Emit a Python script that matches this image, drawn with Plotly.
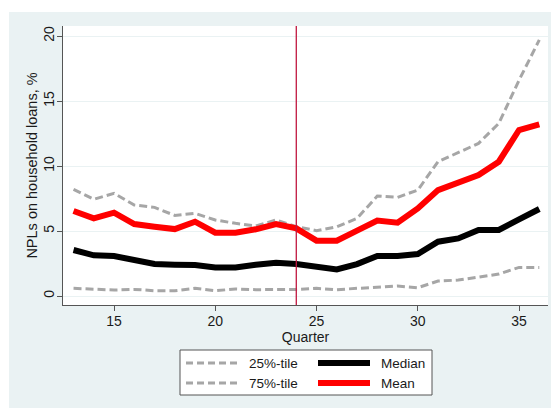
import plotly.graph_objects as go

# Quarterly NPL ratios on household loans, %
quarters = list(range(13, 37))
p25 = [0.59, 0.51, 0.46, 0.51, 0.41, 0.41, 0.59, 0.41, 0.54, 0.49, 0.49, 0.51,
       0.59, 0.49, 0.59, 0.67, 0.77, 0.64, 1.15, 1.23, 1.44, 1.69, 2.20, 2.20]
p75 = [8.20, 7.44, 7.90, 7.00, 6.82, 6.20, 6.36, 5.85, 5.59, 5.38, 5.85, 5.33,
       5.03, 5.33, 5.97, 7.69, 7.59, 8.15, 10.33, 11.03, 11.74, 13.28, 16.60, 19.70]
median = [3.54, 3.13, 3.08, 2.77, 2.46, 2.41, 2.38, 2.20, 2.20, 2.41, 2.56, 2.46,
          2.20, 2.05, 2.46, 3.08, 3.08, 3.23, 4.18, 4.43, 5.08, 5.08, 5.90, 6.69]
mean = [6.54, 5.97, 6.41, 5.54, 5.33, 5.15, 5.72, 4.87, 4.87, 5.13, 5.54, 5.20,
        4.26, 4.26, 5.03, 5.80, 5.64, 6.74, 8.15, 8.67, 9.31, 10.33, 12.77, 13.20]
break_quarter = 24

legend_names = ["25%-tile", "75%-tile", "Median", "Mean"]

GRAY = "#A6A6A6"
BG = "#EAF2F3"
FONT = "Liberation Sans, Arial, sans-serif"
TEXT = "#1a1a1a"
DASH = "8px,4px"

W, H = 551, 408
ML, MR, MT, MB = 63, 3, 26, 103

fig = go.Figure()
fig.add_trace(go.Scatter(x=quarters, y=p25, mode="lines", name=legend_names[0],
                         line=dict(color=GRAY, width=3, dash=DASH)))
fig.add_trace(go.Scatter(x=quarters, y=p75, mode="lines", name=legend_names[1],
                         line=dict(color=GRAY, width=3, dash=DASH)))
fig.add_trace(go.Scatter(x=quarters, y=median, mode="lines", name=legend_names[2],
                         line=dict(color="#000000", width=6)))
fig.add_trace(go.Scatter(x=quarters, y=mean, mode="lines", name=legend_names[3],
                         line=dict(color="#FF0000", width=6)))


def px_x(px):
    return (px - ML) / (W - ML - MR)


def px_y(py):
    return (H - MB - py) / (H - MT - MB)


shapes = [
    # white strips framing the shaded backdrop
    dict(type="rect", xref="paper", yref="paper", x0=px_x(0), x1=px_x(W),
         y0=px_y(12), y1=px_y(0), fillcolor="white", line_width=0, layer="below"),
    dict(type="rect", xref="paper", yref="paper", x0=px_x(0), x1=px_x(9),
         y0=px_y(H), y1=px_y(0), fillcolor="white", line_width=0, layer="below"),
    # break marker
    dict(type="line", xref="x", yref="paper", x0=break_quarter, x1=break_quarter,
         y0=0, y1=1, line=dict(color="#C0173F", width=1.3)),
    # legend box
    dict(type="rect", xref="paper", yref="paper", x0=px_x(180), x1=px_x(432),
         y0=px_y(395), y1=px_y(350), fillcolor="white",
         line=dict(color="#555555", width=1)),
]

annotations = []
legend_slots = [
    (186, 238, 247, 363, dict(color=GRAY, width=3, dash="7px,4px")),
    (186, 238, 247, 383, dict(color=GRAY, width=3, dash="7px,4px")),
    (318, 370, 379, 363, dict(color="#000000", width=6)),
    (318, 370, 379, 383, dict(color="#FF0000", width=6)),
]
for name, (lx0, lx1, tx, ty, style) in zip(legend_names, legend_slots):
    shapes.append(dict(type="line", xref="paper", yref="paper",
                       x0=px_x(lx0), x1=px_x(lx1), y0=px_y(ty), y1=px_y(ty),
                       line=style))
    annotations.append(dict(text=name, xref="paper", yref="paper",
                            x=px_x(tx), y=px_y(ty), xanchor="left", yanchor="middle",
                            showarrow=False, font=dict(size=13.5, color=TEXT)))

fig.update_layout(
    width=W, height=H,
    margin=dict(l=ML, r=MR, t=MT, b=MB),
    paper_bgcolor=BG, plot_bgcolor="white",
    font=dict(family=FONT, size=14, color=TEXT),
    showlegend=False,
    shapes=shapes, annotations=annotations,
    xaxis=dict(range=[12.48, 36.43], tickvals=[15, 20, 25, 30, 35],
               showgrid=False, zeroline=False, showline=True, linecolor="#555555",
               linewidth=1, ticks="outside", ticklen=5, tickcolor="#555555",
               ticklabelstandoff=-2,
               title=dict(text="Quarter", standoff=0, font=dict(size=14))),
    yaxis=dict(range=[-0.69, 20.77], tickvals=[0, 5, 10, 15, 20], tickangle=-90,
               showgrid=True, gridcolor="#EAF2F3", gridwidth=1, zeroline=False,
               showline=True, linecolor="#555555", linewidth=1,
               ticks="outside", ticklen=5, tickcolor="#555555",
               ticklabelstandoff=-3,
               title=dict(text="NPLs on household loans, %", standoff=0,
                          font=dict(size=14.5))),
)

fig.write_html("out.html")
